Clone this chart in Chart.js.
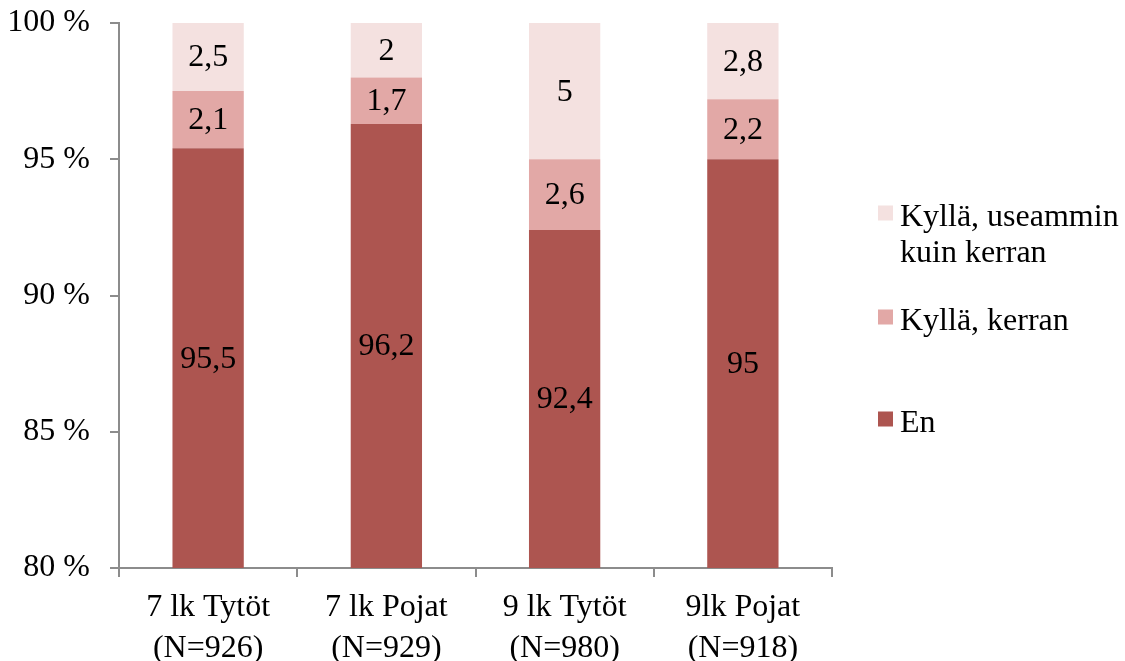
<!DOCTYPE html>
<html>
<head>
<meta charset="utf-8">
<script src="https://cdn.jsdelivr.net/npm/chart.js@4/dist/chart.umd.min.js"></script>
<style>
  html, body { margin: 0; padding: 0; background: #ffffff; }
  #wrap { width: 1125px; height: 661px; position: relative; }
</style>
</head>
<body>
<div id="wrap"><canvas id="c" width="1125" height="661"></canvas></div>
<script>
// Groups (two-line axis labels)
const categories = [
  ['7 lk Tytöt', '(N=926)'],
  ['7 lk Pojat', '(N=929)'],
  ['9 lk Tytöt', '(N=980)'],
  ['9lk Pojat', '(N=918)']
];

// Answer shares, percent
const enValues = [95.5, 96.2, 92.4, 95];
const kerranValues = [2.1, 1.7, 2.6, 2.2];
const useamminValues = [2.5, 2, 5, 2.8];

const seriesNames = ['En', 'Kyllä, kerran', ['Kyllä, useammin', 'kuin kerran']];
const yTicks = [80, 85, 90, 95, 100];

const FONT = "'Liberation Serif', 'Times New Roman', serif";
const FONT_SIZE = 32;
const colors = ['#ad5550', '#e2a8a6', '#f4e1e0'];

// 100 % stacked: each group is scaled to its own total
const totals = enValues.map((v, i) => v + kerranValues[i] + useamminValues[i]);
const share = arr => arr.map((v, i) => v / totals[i] * 100);
const rawSeries = [enValues, kerranValues, useamminValues];

const fmt = v => String(v).replace('.', ',');

// Value labels centred on the visible part of each segment
const segmentLabels = {
  id: 'segmentLabels',
  afterDatasetsDraw(chart) {
    const { ctx, chartArea } = chart;
    ctx.save();
    ctx.font = FONT_SIZE + 'px ' + FONT;
    ctx.fillStyle = '#000000';
    ctx.textAlign = 'center';
    ctx.textBaseline = 'middle';
    chart.data.datasets.forEach((ds, di) => {
      const meta = chart.getDatasetMeta(di);
      meta.data.forEach((bar, i) => {
        const top = Math.max(Math.min(bar.y, bar.base), chartArea.top);
        const bottom = Math.min(Math.max(bar.y, bar.base), chartArea.bottom);
        if (bottom <= top) return;
        ctx.fillText(fmt(rawSeries[di][i]), bar.x, (top + bottom) / 2 + 1);
      });
    });
    ctx.restore();
  }
};

// Legend on the right, top series first
const sideLegend = {
  id: 'sideLegend',
  afterDraw(chart) {
    const { ctx } = chart;
    const x = 878, box = 15, textX = 900, lineH = 36;
    const rows = [
      { ds: 2, y: 218 },
      { ds: 1, y: 322 },
      { ds: 0, y: 424 }
    ];
    ctx.save();
    ctx.font = FONT_SIZE + 'px ' + FONT;
    ctx.textAlign = 'left';
    ctx.textBaseline = 'middle';
    rows.forEach(r => {
      const ds = chart.data.datasets[r.ds];
      ctx.fillStyle = ds.backgroundColor;
      ctx.fillRect(x, r.y - 5 - box / 2, box, box);
      ctx.fillStyle = '#000000';
      const lines = Array.isArray(ds.label) ? ds.label : [ds.label];
      lines.forEach((t, k) => ctx.fillText(t, textX, r.y + k * lineH));
    });
    ctx.restore();
  }
};

new Chart(document.getElementById('c'), {
  type: 'bar',
  data: {
    labels: categories,
    datasets: [
      { label: seriesNames[0], data: share(enValues), backgroundColor: colors[0] },
      { label: seriesNames[1], data: share(kerranValues), backgroundColor: colors[1] },
      { label: seriesNames[2], data: share(useamminValues), backgroundColor: colors[2] }
    ]
  },
  options: {
    responsive: false,
    animation: false,
    events: [],
    layout: { padding: { left: 0, right: 293, top: 23, bottom: 0 } },
    datasets: { bar: { categoryPercentage: 1, barPercentage: 0.4, borderWidth: 0 } },
    plugins: { legend: { display: false }, tooltip: { enabled: false } },
    scales: {
      x: {
        stacked: true,
        afterFit(s) { s.height = 93; s.paddingLeft = 0; s.paddingRight = 0; s.paddingTop = 0; s.paddingBottom = 0; },
        border: { display: true, color: '#8c8c8c', width: 2 },
        grid: { offset: true, drawOnChartArea: false, drawTicks: true, tickLength: 9, color: '#8c8c8c', lineWidth: 2 },
        ticks: { color: '#000000', font: { family: FONT, size: FONT_SIZE, lineHeight: 1.28 }, padding: 10, maxRotation: 0 }
      },
      y: {
        stacked: true,
        min: 80,
        max: 100,
        afterFit(s) { s.width = 119; s.paddingTop = 0; s.paddingBottom = 0; s.paddingLeft = 0; s.paddingRight = 0; },
        afterBuildTicks(s) { s.ticks = yTicks.map(v => ({ value: v })); },
        border: { display: true, color: '#8c8c8c', width: 2 },
        grid: { drawOnChartArea: false, drawTicks: true, tickLength: 9, color: '#8c8c8c', lineWidth: 2 },
        ticks: { color: '#000000', font: { family: FONT, size: FONT_SIZE }, padding: 20, callback: v => v + ' %' }
      }
    }
  },
  plugins: [segmentLabels, sideLegend]
});
</script>
</body>
</html>
